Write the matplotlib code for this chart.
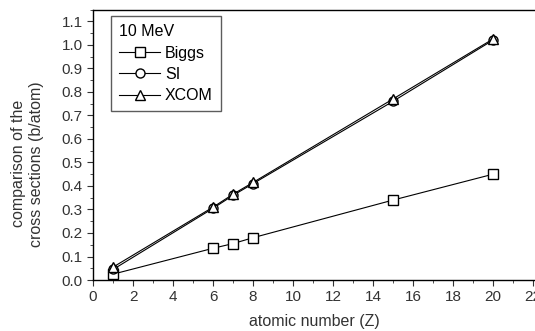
import matplotlib
matplotlib.use('Agg')
from matplotlib import pyplot as plt
from matplotlib.ticker import MultipleLocator

plt.rcParams['font.family'] = ['Liberation Sans', 'DejaVu Sans']

z = [1, 6, 7, 8, 15, 20]
biggs = [0.025, 0.135, 0.155, 0.18, 0.34, 0.45]
si = [0.045, 0.305, 0.36, 0.41, 0.76, 1.02]
xcom = [0.055, 0.31, 0.365, 0.415, 0.77, 1.025]

fig = plt.figure(figsize=(5.35, 3.31), dpi=100)
ax = fig.add_axes([0.174, 0.154, 0.826, 0.817])

style = dict(color='black', lw=0.8, markersize=6.5, markerfacecolor='white',
             markeredgecolor='black', markeredgewidth=1.0)
ax.plot(z, biggs, marker='s', label='Biggs', **style)
ax.plot(z, si, marker='o', label='SI', **style)
ax.plot(z, xcom, marker='^', label='XCOM', **style)

ax.set_xlim(0, 22.1)
ax.set_ylim(0, 1.15)
ax.xaxis.set_major_locator(MultipleLocator(2))
ax.xaxis.set_minor_locator(MultipleLocator(1))
ax.yaxis.set_major_locator(MultipleLocator(0.1))
ax.yaxis.set_minor_locator(MultipleLocator(0.05))
ax.yaxis.set_major_formatter(plt.FormatStrFormatter('%.1f'))
ax.tick_params(which='both', direction='out', colors='#333', labelsize=11)
ax.tick_params(which='major', length=4)
ax.tick_params(which='minor', length=2.5)
ax.spines['right'].set_visible(False)
for s in ['left', 'bottom', 'top']:
    ax.spines[s].set_linewidth(1.0)

ax.set_xlabel('atomic number (Z)', fontsize=11.5, color='#333', labelpad=7)
ax.set_ylabel('comparison of the\ncross sections (b/atom)', fontsize=11.5,
              color='#333')
ax.yaxis.set_label_coords(-0.112, 0.43)

leg = ax.legend(title='10 MeV', loc='upper left', bbox_to_anchor=(0.022, 1.005),
                fontsize=11.5, title_fontsize=11.5, frameon=True, fancybox=False,
                edgecolor='#333', handlelength=2.6, borderpad=0.5, labelspacing=0.4,
                handletextpad=0.3)
leg._legend_box.align = 'left'
leg.get_frame().set_linewidth(1.0)

fig.savefig('out.png', dpi=100)
